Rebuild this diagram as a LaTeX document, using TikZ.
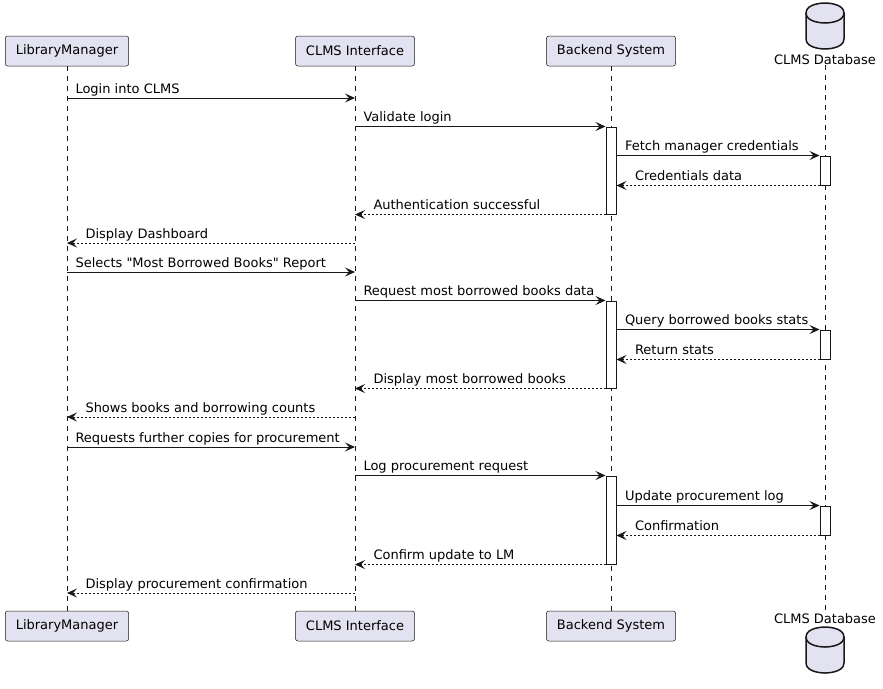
\documentclass[tikz,border=0pt]{standalone}
\usepackage{fontspec}
\setmainfont{DejaVu Sans}
\usetikzlibrary{arrows.meta}
\definecolor{edge}{HTML}{181818}
\definecolor{partfill}{HTML}{E2E2F0}

\begin{document}
\begin{tikzpicture}[x=1pt, y=-1pt,
    lbl/.style={font=\fontsize{13}{15}\selectfont, inner sep=0pt},
    part/.style={lbl, draw=edge, line width=0.5pt, fill=partfill, rounded corners=2.5pt, minimum height=30pt, inner xsep=10.5pt},
    life/.style={draw=edge, line width=0.5pt, dash pattern=on 5pt off 5pt},
    act/.style={draw=edge, line width=1pt, fill=white, minimum width=10pt, inner sep=0pt},
    msg/.style={draw=edge, line width=1pt, -{Stealth[length=10pt,width=9pt,inset=4pt]}},
    ret/.style={msg, dash pattern=on 2pt off 2pt},
    fwd/.style={lbl, pos=0, anchor=base west, xshift=8pt, yshift=5pt},
    bck/.style={lbl, pos=1, anchor=base west, xshift=18pt, yshift=5pt}
]
\useasboundingbox (0,0) rectangle (883,688);

% participants, top and bottom
\node[part] (lm) at (67,51) {LibraryManager};
\node[part] (ci) at (355,51) {CLMS Interface};
\node[part] (bs) at (611,51) {Backend System};
\node[lbl] (db) at (825,60) {CLMS Database};
\node[part] (lm2) at (67,626) {LibraryManager};
\node[part] (ci2) at (355,626) {CLMS Interface};
\node[part] (bs2) at (611,626) {Backend System};
\node[lbl] (db2) at (825,619) {CLMS Database};
\foreach \t in {3,627}{
  \draw[draw=edge, line width=1.5pt, fill=partfill] (806,\t+10) .. controls (806,\t) and (825,\t) .. (825,\t) .. controls (825,\t) and (844,\t) .. (844,\t+10) -- (844,\t+36) .. controls (844,\t+46) and (825,\t+46) .. (825,\t+46) .. controls (825,\t+46) and (806,\t+46) .. (806,\t+36) -- cycle;
  \draw[draw=edge, line width=1.5pt] (806,\t+10) .. controls (806,\t+20) and (825,\t+20) .. (825,\t+20) .. controls (825,\t+20) and (844,\t+20) .. (844,\t+10);
}

% lifelines
\draw[life] (lm) -- (lm2);
\draw[life] (ci) -- (ci2);
\draw[life] (bs) -- (bs2);
\draw[life] (db) -- (db2);

% activations
\node[act, minimum height=87pt] (a1) at (611,170.5) {};
\node[act, minimum height=87pt] (a2) at (611,344.5) {};
\node[act, minimum height=88pt] (a3) at (611,520) {};
\node[act, minimum height=29pt] (d1) at (825,170.5) {};
\node[act, minimum height=29pt] (d2) at (825,344.5) {};
\node[act, minimum height=29pt] (d3) at (825,520.5) {};

% login
\draw[msg] (lm |- 0,98) -- node[fwd] {Login into CLMS} (ci |- 0,98);
\draw[msg] (ci |- a1.north) -- node[fwd] {Validate login} (a1.north west);
\draw[msg] (a1.east |- d1.north) -- node[fwd] {Fetch manager credentials} (d1.north west);
\draw[ret] (d1.south west) -- node[bck] {Credentials data} (a1.east |- d1.south);
\draw[ret] (a1.south west) -- node[bck] {Authentication successful} (ci |- a1.south);
\draw[ret] (ci |- 0,243) -- node[bck] {Display Dashboard} (lm |- 0,243);

% report
\draw[msg] (lm |- 0,272) -- node[fwd] {Selects \textquotedbl Most Borrowed Books\textquotedbl{} Report} (ci |- 0,272);
\draw[msg] (ci |- a2.north) -- node[fwd] {Request most borrowed books data} (a2.north west);
\draw[msg] (a2.east |- d2.north) -- node[fwd] {Query borrowed books stats} (d2.north west);
\draw[ret] (d2.south west) -- node[bck] {Return stats} (a2.east |- d2.south);
\draw[ret] (a2.south west) -- node[bck] {Display most borrowed books} (ci |- a2.south);
\draw[ret] (ci |- 0,417) -- node[bck] {Shows books and borrowing counts} (lm |- 0,417);

% procurement
\draw[msg] (lm |- 0,447) -- node[fwd] {Requests further copies for procurement} (ci |- 0,447);
\draw[msg] (ci |- a3.north) -- node[fwd] {Log procurement request} (a3.north west);
\draw[msg] (a3.east |- d3.north) -- node[fwd] {Update procurement log} (d3.north west);
\draw[ret] (d3.south west) -- node[bck] {Confirmation} (a3.east |- d3.south);
\draw[ret] (a3.south west) -- node[bck] {Confirm update to LM} (ci |- a3.south);
\draw[ret] (ci |- 0,593) -- node[bck] {Display procurement confirmation} (lm |- 0,593);

\end{tikzpicture}
\end{document}
